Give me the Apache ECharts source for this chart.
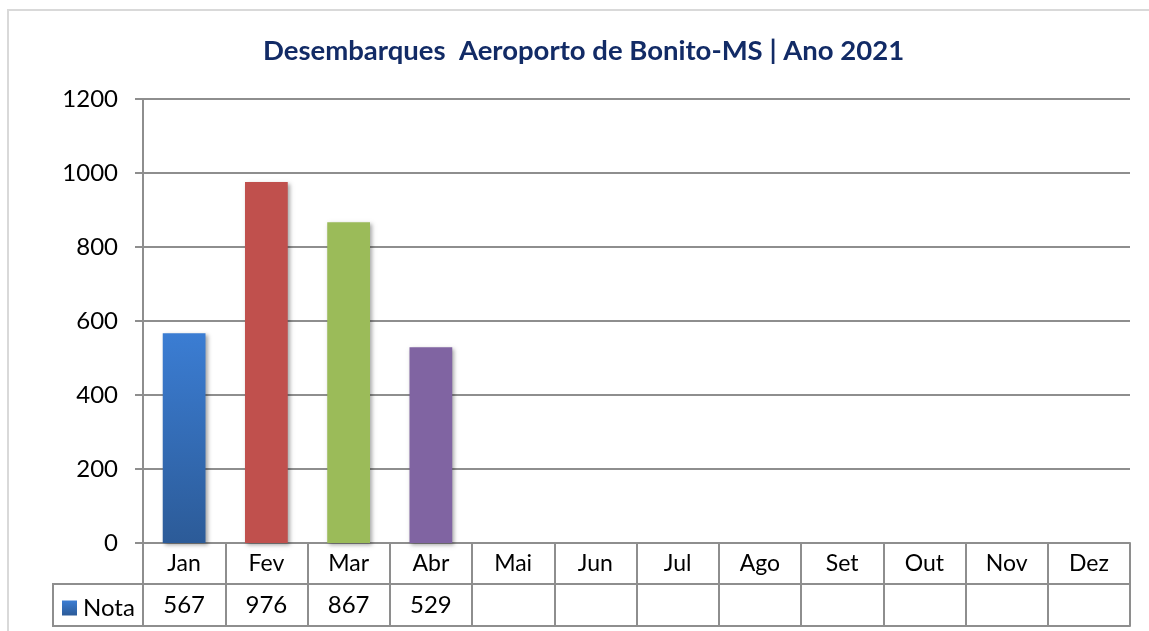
<!DOCTYPE html>
<html>
<head>
<meta charset="utf-8">
<script src="https://cdn.jsdelivr.net/npm/echarts@6/dist/echarts.min.js"></script>
<style>
    html, body {
        margin: 0;
        padding: 0;
        background: #fff;
    }
    #desembarques {
        width: 1149px;
        height: 631px;
    }
</style>
</head>
<body>
<div id="desembarques"></div>
<script>
    // dados
    let meses = ['Jan', 'Fev', 'Mar', 'Abr', 'Mai', 'Jun', 'Jul', 'Ago', 'Set', 'Out', 'Nov', 'Dez'];
    let nota = [567, 976, 867, 529, null, null, null, null, null, null, null, null];
    let coresBarras = [null, '#c0504d', '#9bbb59', '#8064a2'];
    let yTicks = [0, 200, 400, 600, 800, 1000, 1200];

    let fonte = 'Lato, "Open Sans", sans-serif';
    let cinza = '#8e8e8e';
    let azulGrad = new echarts.graphic.LinearGradient(0, 0, 0, 1, [
        {offset: 0, color: '#3b7dd3'},
        {offset: 1, color: '#2c5b98'}
    ]);

    let myChart = echarts.init(document.getElementById('desembarques'));

    let seriesData = nota.map((v, i) => {
        let item = {value: v};
        if (coresBarras[i]) {
            item.itemStyle = {color: coresBarras[i]};
        }
        return item;
    });

    let option = {
        animation: false,
        title: {
            text: 'Desembarques  Aeroporto de Bonito-MS | Ano 2021',
            left: 258,
            top: 32,
            textStyle: {
                color: '#122b66',
                fontFamily: fonte,
                fontWeight: 'bold',
                fontSize: 27.5
            }
        },
        legend: {
            data: ['Nota'],
            left: 62,
            top: 596,
            padding: 0,
            icon: 'rect',
            itemWidth: 15,
            itemHeight: 15,
            itemGap: 5,
            textStyle: {
                color: '#000',
                fontFamily: fonte,
                fontSize: 24,
                padding: [0, 0, 0, 1]
            }
        },
        grid: {
            left: 143,
            right: 19,
            top: 99,
            bottom: 88
        },
        xAxis: [
            {
                type: 'category',
                data: meses,
                position: 'bottom',
                axisLine: {lineStyle: {color: cinza, width: 2}},
                axisTick: {show: true, length: 41, lineStyle: {color: cinza, width: 2}},
                axisLabel: {
                    color: '#000',
                    fontFamily: fonte,
                    fontSize: 23,
                    margin: 9,
                    interval: 0
                }
            },
            {
                type: 'category',
                data: meses,
                position: 'bottom',
                offset: 41,
                axisLine: {lineStyle: {color: cinza, width: 2}},
                axisTick: {show: true, length: 42, lineStyle: {color: cinza, width: 2}},
                axisLabel: {
                    color: '#000',
                    fontFamily: fonte,
                    fontSize: 24,
                    margin: 9,
                    interval: 0,
                    formatter: (v, i) => nota[i] == null ? '' : String(nota[i])
                }
            },
            {
                type: 'category',
                data: meses,
                position: 'bottom',
                offset: 83,
                axisLine: {lineStyle: {color: cinza, width: 2}},
                axisTick: {show: false},
                axisLabel: {show: false}
            }
        ],
        yAxis: {
            type: 'value',
            min: yTicks[0],
            max: yTicks[yTicks.length - 1],
            interval: 200,
            axisLine: {show: true, lineStyle: {color: cinza, width: 2}},
            axisTick: {show: true, length: 8, lineStyle: {color: cinza, width: 2}},
            splitLine: {lineStyle: {color: cinza, width: 2}},
            axisLabel: {
                color: '#000',
                fontFamily: fonte,
                fontSize: 24,
                margin: 25,
                formatter: v => String(v)
            }
        },
        graphic: [
            {
                type: 'rect',
                silent: true,
                shape: {x: 8, y: 10, width: 1160, height: 640},
                style: {fill: 'none', stroke: '#d9d9d9', lineWidth: 2},
                z: -1
            },
            {
                type: 'polyline',
                silent: true,
                shape: {points: [[143, 584], [53, 584], [53, 626], [143, 626]]},
                style: {fill: 'none', stroke: cinza, lineWidth: 2}
            }
        ],
        series: [
            {
                name: 'Nota',
                type: 'bar',
                barWidth: '52%',
                data: seriesData,
                itemStyle: {
                    color: azulGrad,
                    shadowColor: 'rgba(0,0,0,0.35)',
                    shadowBlur: 4,
                    shadowOffsetX: 2,
                    shadowOffsetY: 2
                }
            }
        ]
    };

    myChart.setOption(option);
</script>
</body>
</html>
